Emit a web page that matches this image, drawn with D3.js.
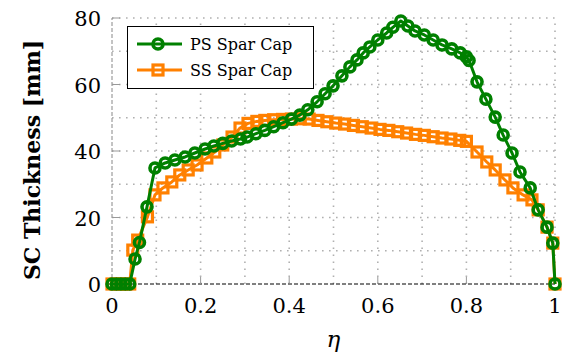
<!DOCTYPE html>
<html>
<head>
    <script src="https://d3js.org/d3.v7.min.js"></script>
    <style>
        body { margin: 0; background: #fff; }
        svg text { font-family: "DejaVu Serif", "Liberation Serif", serif; fill: #000; }
    </style>
</head>
<body>
    <div id="chart"></div>
    <script>
        // PS spar cap (green circles)
        const psEta = [0, 0.01, 0.02, 0.03, 0.04, 0.052, 0.062, 0.079, 0.097, 0.12, 0.142, 0.165, 0.187, 0.21, 0.23, 0.25, 0.27, 0.29, 0.305,
            0.325, 0.345, 0.365, 0.386, 0.405, 0.424, 0.442, 0.463, 0.481, 0.499, 0.519, 0.537, 0.553, 0.567, 0.582, 0.6, 0.62, 0.634, 0.652,
            0.668, 0.684, 0.705, 0.725, 0.745, 0.767, 0.786, 0.8, 0.806, 0.824, 0.844, 0.865, 0.883, 0.903, 0.921, 0.944, 0.962, 0.982, 0.995, 1.0]
        const psThick = [0, 0, 0, 0, 0, 7.5, 12.5, 23.2, 34.9, 36.4, 37.3, 38.2, 39.4, 40.6, 41.5, 42.3, 43.0, 43.6, 44.2,
            45.2, 46.2, 47.3, 48.5, 49.6, 50.8, 52.4, 54.8, 57.2, 59.6, 62.6, 65.3, 67.4, 69.5, 71.3, 73.4, 75.5, 77.2, 79.1,
            77.6, 76.1, 74.9, 73.4, 71.9, 70.7, 69.5, 68.3, 67.2, 60.8, 55.6, 50.2, 44.8, 39.4, 33.7, 28.9, 22.3, 17.1, 12.3, 0]

        // SS spar cap (orange squares)
        const ssEta = [0, 0.01, 0.02, 0.03, 0.04, 0.047, 0.058, 0.08, 0.097, 0.115, 0.135, 0.153, 0.172, 0.192, 0.214, 0.232, 0.25, 0.271, 0.289,
            0.307, 0.327, 0.345, 0.365, 0.385, 0.405, 0.425, 0.445, 0.465, 0.485, 0.505, 0.525, 0.545, 0.565, 0.585, 0.605, 0.625, 0.645,
            0.665, 0.685, 0.705, 0.725, 0.745, 0.765, 0.785, 0.8, 0.824, 0.846, 0.865, 0.887, 0.905, 0.928, 0.948, 0.962, 0.982, 0.995, 1.0]
        const ssThick = [0, 0, 0, 0, 0, 10.2, 13.2, 20.2, 26.8, 28.9, 30.7, 32.8, 34.3, 35.8, 37.9, 39.7, 41.8, 44.2, 46.9,
            48.3, 48.9, 49.2, 49.4, 49.5, 49.6, 49.7, 49.6, 49.2, 48.8, 48.4, 48.1, 47.7, 47.3, 46.9, 46.5, 46.2, 45.8,
            45.4, 45.0, 44.7, 44.3, 43.9, 43.6, 43.2, 42.9, 39.7, 36.7, 34.3, 31.3, 28.9, 26.8, 25.3, 22.3, 17.1, 12.3, 0]

        const xTicks = [0, 0.2, 0.4, 0.6, 0.8, 1]
        const yTicks = [0, 20, 40, 60, 80]
        const xGrid = [0.1, 0.2, 0.3, 0.4, 0.5, 0.6, 0.7, 0.8, 0.9, 1]
        const yGrid = [10, 20, 30, 40, 50, 60, 70, 80]

        const width = 562, height = 356
        const margin = { top: 18, right: 7, bottom: 72, left: 112 }
        const green = "#008000", orange = "#ff8000"
        const serif = '"DejaVu Serif", "Liberation Serif", serif'

        const svg = d3.select("#chart").append("svg")
            .attr("width", width)
            .attr("height", height)
            .attr("font-family", serif)

        const x = d3.scaleLinear().domain([0, 1]).range([margin.left, width - margin.right])
        const y = d3.scaleLinear().domain([0, 80]).range([height - margin.bottom, margin.top])

        // dotted grid
        const grid = svg.append("g")
            .attr("stroke", "#b0b0b0")
            .attr("stroke-width", 1.6)
            .attr("stroke-dasharray", "1.6 5.4")
        grid.selectAll(".vg").data(xGrid).join("line")
            .attr("x1", d => x(d)).attr("x2", d => x(d))
            .attr("y1", y(0)).attr("y2", y(80))
        grid.selectAll(".hg").data(yGrid).join("line")
            .attr("y1", d => y(d)).attr("y2", d => y(d))
            .attr("x1", x(0)).attr("x2", x(1))

        // axis lines
        svg.append("line")
            .attr("x1", x(0)).attr("x2", x(0))
            .attr("y1", y(0)).attr("y2", y(80))
            .attr("stroke", "#888").attr("stroke-width", 1)
            .attr("stroke-dasharray", "4 2")
        svg.append("line")
            .attr("x1", x(0) - 4).attr("x2", x(1))
            .attr("y1", y(0)).attr("y2", y(0))
            .attr("stroke", "#000").attr("stroke-width", 1)
            .attr("stroke-dasharray", "4 2")

        // tick marks
        svg.selectAll(".xt").data(xTicks.slice(1, -1)).join("line")
            .attr("x1", d => x(d)).attr("x2", d => x(d))
            .attr("y1", y(0)).attr("y2", y(0) - 7)
            .attr("stroke", "#999")
        svg.selectAll(".yt").data(yTicks.slice(1)).join("line")
            .attr("x1", x(0)).attr("x2", x(0) + 8)
            .attr("y1", d => y(d)).attr("y2", d => y(d))
            .attr("stroke", "#999")

        // tick labels
        svg.selectAll(".xl").data(xTicks).join("text")
            .attr("x", d => x(d))
            .attr("y", y(0) + 29)
            .attr("text-anchor", "middle")
            .style("font-size", "21px")
            .text(d => d3.format("~g")(d))
        svg.selectAll(".yl").data(yTicks).join("text")
            .attr("x", x(0) - 11)
            .attr("y", d => y(d) + 8)
            .attr("text-anchor", "end")
            .style("font-size", "21px")
            .text(d => d)

        // axis titles
        svg.append("text")
            .attr("transform", `translate(40,${(y(0) + y(80)) / 2 + 9}) rotate(-90)`)
            .attr("text-anchor", "middle")
            .style("font-size", "22px")
            .style("font-weight", "bold")
            .text("SC Thickness [mm]")
        svg.append("text")
            .attr("x", (x(0) + x(1)) / 2)
            .attr("y", 347)
            .attr("text-anchor", "middle")
            .style("font-size", "23px")
            .style("font-style", "italic")
            .text("η")

        const line = d3.line().x(d => x(d[0])).y(d => y(d[1]))
        const psData = psEta.map((e, i) => [e, psThick[i]])
        const ssData = ssEta.map((e, i) => [e, ssThick[i]])

        const drawSeries = (data, color, shape) => {
            svg.append("path")
                .datum(data)
                .attr("fill", "none")
                .attr("stroke", color)
                .attr("stroke-width", 3)
                .attr("stroke-linejoin", "round")
                .attr("d", line)
            if (shape === "circle") {
                svg.append("g").selectAll("circle").data(data).join("circle")
                    .attr("cx", d => x(d[0])).attr("cy", d => y(d[1]))
                    .attr("r", 5)
                    .attr("fill", "none").attr("stroke", color).attr("stroke-width", 3.6)
            } else {
                svg.append("g").selectAll("rect").data(data).join("rect")
                    .attr("x", d => x(d[0]) - 5).attr("y", d => y(d[1]) - 5)
                    .attr("width", 10).attr("height", 10)
                    .attr("fill", "none").attr("stroke", color).attr("stroke-width", 3.2)
            }
        }
        drawSeries(ssData, orange, "square")
        drawSeries(psData, green, "circle")

        // legend
        const lg = svg.append("g")
        lg.append("rect")
            .attr("x", 127.5).attr("y", 26.5)
            .attr("width", 186).attr("height", 62)
            .attr("fill", "#fff").attr("stroke", "#000").attr("stroke-width", 1)
        const entries = [["PS Spar Cap", green, "circle"], ["SS Spar Cap", orange, "square"]]
        entries.forEach(([name, color, shape], i) => {
            const ly = 44 + i * 26
            lg.append("line")
                .attr("x1", 137).attr("x2", 182)
                .attr("y1", ly).attr("y2", ly)
                .attr("stroke", color).attr("stroke-width", 3)
            if (shape === "circle") {
                lg.append("circle").attr("cx", 158).attr("cy", ly).attr("r", 5)
                    .attr("fill", "none").attr("stroke", color).attr("stroke-width", 3.6)
            } else {
                lg.append("rect").attr("x", 153).attr("y", ly - 5).attr("width", 10).attr("height", 10)
                    .attr("fill", "none").attr("stroke", color).attr("stroke-width", 3.2)
            }
            lg.append("text")
                .attr("x", 190).attr("y", ly + 6)
                .style("font-size", "16px")
                .text(name)
        })
    </script>
</body>
</html>
